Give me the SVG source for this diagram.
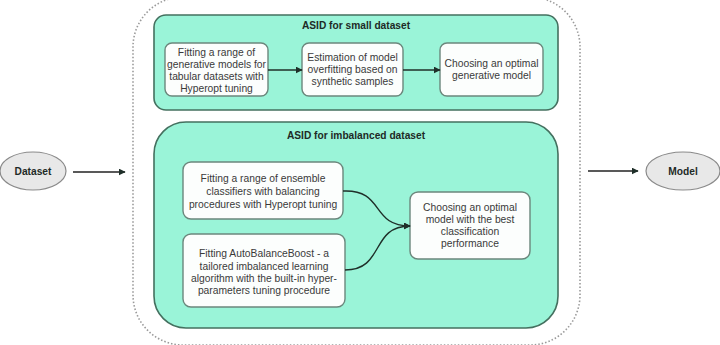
<svg xmlns="http://www.w3.org/2000/svg" width="720" height="345" viewBox="0 0 720 345">
<defs>
<style>
.t{font-family:"Liberation Sans",Arial,sans-serif;font-size:10.3px;fill:#3a3a3a;text-anchor:middle}
.b{font-family:"Liberation Sans",Arial,sans-serif;font-size:10.2px;font-weight:bold;fill:#1e2a26;text-anchor:middle}
.grp{fill:#9af4d8;stroke:#44705f;stroke-width:1.6}
.box{fill:#fcfefd;stroke:#6b877c;stroke-width:1.4}
.ell{fill:#e8e8e8;stroke:#8a8a8a;stroke-width:1.2}
.con{fill:none;stroke:#1f2f29;stroke-width:1.4}
.ext{fill:none;stroke:#222;stroke-width:1.5}
</style>
<marker id="ah" viewBox="0 0 10 10" refX="9" refY="5" markerWidth="7" markerHeight="7" markerUnits="userSpaceOnUse" orient="auto">
<path d="M0,0 L10,5 L0,10 z" fill="#1f2f29"/>
</marker>
</defs>
<rect x="0" y="0" width="720" height="345" fill="#ffffff"/>
<g id="outer">
<rect x="133" y="-3" width="447" height="348" rx="50" ry="50" fill="none" stroke="#9a9a9a" stroke-width="1.6" stroke-dasharray="1.5 2"/>
</g>
<g id="small-group">
<rect class="grp" x="154" y="15" width="404" height="95" rx="12" ry="12"/>
<text class="b" x="356" y="29">ASID for small dataset</text>
</g>
<g id="imb-group">
<rect class="grp" x="154" y="122" width="404" height="206" rx="32" ry="32"/>
<text class="b" x="356" y="139">ASID for imbalanced dataset</text>
</g>
<g id="dataset">
<ellipse class="ell" cx="33" cy="171" rx="33" ry="19"/>
<text class="b" x="33" y="175">Dataset</text>
</g>
<g id="model">
<ellipse class="ell" cx="683" cy="171" rx="37" ry="19"/>
<text class="b" x="683" y="175">Model</text>
</g>
<g id="fit-generative">
<rect class="box" x="165" y="43" width="103" height="53" rx="7" ry="7"/>
<text class="t" x="216.5" y="56">Fitting a range of</text>
<text class="t" x="216.5" y="68">generative models for</text>
<text class="t" x="216.5" y="80">tabular datasets with</text>
<text class="t" x="216.5" y="92">Hyperopt tuning</text>
</g>
<g id="estimation">
<rect class="box" x="302" y="43" width="101" height="53" rx="7" ry="7"/>
<text class="t" x="352.5" y="61">Estimation of model</text>
<text class="t" x="352.5" y="73">overfitting based on</text>
<text class="t" x="352.5" y="85">synthetic samples</text>
</g>
<g id="choose-generative">
<rect class="box" x="440" y="43" width="103" height="53" rx="7" ry="7"/>
<text class="t" x="491.5" y="67">Choosing an optimal</text>
<text class="t" x="491.5" y="79">generative model</text>
</g>
<g id="fit-ensemble">
<rect class="box" x="183" y="162" width="160" height="57" rx="8" ry="8"/>
<text class="t" x="263" y="182">Fitting a range of ensemble</text>
<text class="t" x="263" y="195">classifiers with balancing</text>
<text class="t" x="263" y="208">procedures with Hyperopt tuning</text>
</g>
<g id="fit-abb">
<rect class="box" x="183" y="234" width="162" height="73" rx="8" ry="8"/>
<text class="t" x="264" y="257">Fitting AutoBalanceBoost - a</text>
<text class="t" x="264" y="270">tailored imbalanced learning</text>
<text class="t" x="264" y="282">algorithm with the built-in hyper-</text>
<text class="t" x="264" y="294">parameters tuning procedure</text>
</g>
<g id="choose-classifier">
<rect class="box" x="410" y="192" width="120" height="67" rx="8" ry="8"/>
<text class="t" x="470" y="211">Choosing an optimal</text>
<text class="t" x="470" y="223">model with the best</text>
<text class="t" x="470" y="235">classification</text>
<text class="t" x="470" y="247">performance</text>
</g>
<g id="connectors">
<path class="con" d="M268,70 L302,70" marker-end="url(#ah)"/>
<path class="con" d="M403,70 L440,70" marker-end="url(#ah)"/>
<path class="con" d="M343,191 C385,189 370,226 410,226" marker-end="url(#ah)"/>
<path class="con" d="M345,270 C385,270 370,226 410,226" marker-end="url(#ah)"/>
<path class="ext" d="M73,172 L125,172" marker-end="url(#ah)"/>
<path class="ext" d="M588,171 L638,171" marker-end="url(#ah)"/>
</g>
</svg>
